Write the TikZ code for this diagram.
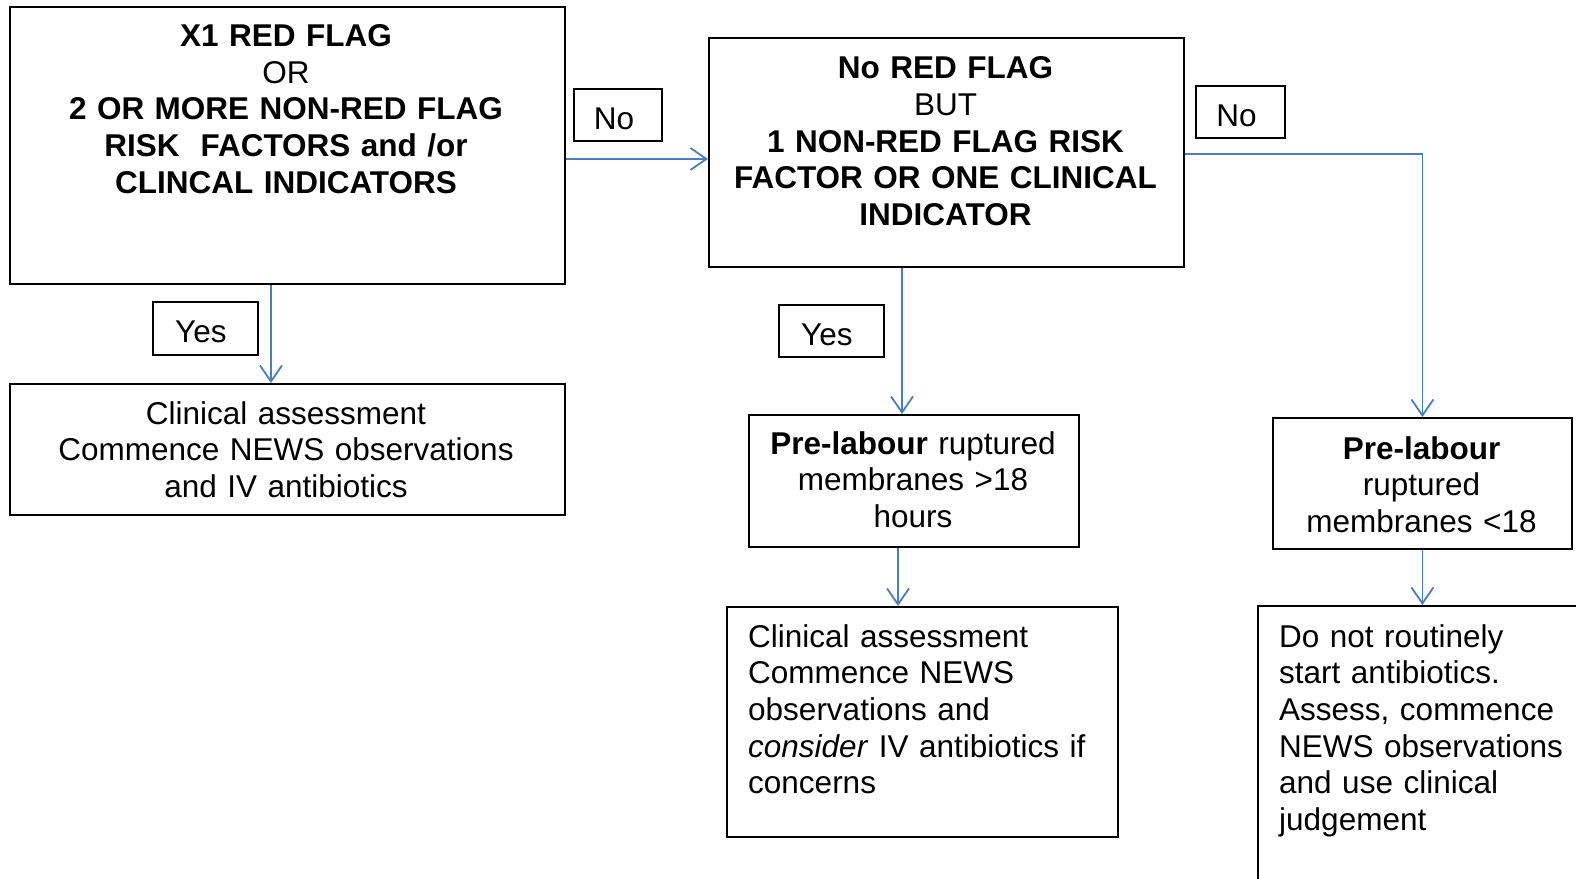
\documentclass[tikz,border=0pt]{standalone}
\usepackage{fontspec}
\setmainfont{Liberation Sans}
\usetikzlibrary{arrows.meta,calc}
\definecolor{arrblue}{RGB}{74,126,187}
\newcommand\myfs{\fontsize{31.5}{36.7}\selectfont}
\tikzset{
  box/.style={draw=black, line width=1.8pt, inner sep=0pt, anchor=north west},
  lbl/.style={draw=black, line width=1.8pt, inner sep=0pt, anchor=north west, font=\myfs, text height=29pt, text depth=0pt},
  ctext/.style={inner sep=0pt, anchor=base, align=center, text width=#1, font=\myfs},
  ltext/.style={inner sep=0pt, anchor=base west, align=left, text width=#1, font=\myfs},
  arr/.style={draw=arrblue, line width=1.8pt, -{Straight Barb[length=16pt,width=22pt]}}
}
\begin{document}
\begin{tikzpicture}[x=1pt,y=-1pt]
\useasboundingbox (0,0) rectangle (1576,878);
\clip (0,0) rectangle (1576,878);
% boxes
\node[box, minimum width=555pt, minimum height=277pt] (b1) at (9,6) {};
\node[box, minimum width=475pt, minimum height=229pt] (b2) at (708,37) {};
\node[box, minimum width=555pt, minimum height=131pt] (b3) at (9,383) {};
\node[box, minimum width=330pt, minimum height=132pt] (b4) at (748,414) {};
\node[box, minimum width=391pt, minimum height=230pt] (b5) at (726,606) {};
\node[box, minimum width=299pt, minimum height=131pt] (b6) at (1272,417) {};
\node[box, minimum width=400pt, minimum height=400pt] (b7) at (1257,605) {};
% labels
\node[lbl, minimum width=88pt, minimum height=52pt] (no1) at (573,88) {\hspace*{-8pt}No};
\node[lbl, minimum width=89pt, minimum height=52pt] (no2) at (1195,85) {\hspace*{-8pt}No};
\node[lbl, minimum width=105pt, minimum height=53pt] (yes1) at (152,301) {\hspace*{-9pt}Yes};
\node[lbl, minimum width=105pt, minimum height=52pt] (yes2) at (778,304) {\hspace*{-9pt}Yes};
% texts
\node[ctext=540pt] (t1) at (286,46.5) {\textbf{X1 RED FLAG}\\OR\\\textbf{2 OR MORE NON-RED FLAG}\\\textbf{RISK\ \ FACTORS and /or}\\\textbf{CLINCAL INDICATORS}};
\node[ctext=470pt] (t2) at (945.5,78.6) {\textbf{No RED FLAG}\\BUT\\\textbf{1 NON-RED FLAG RISK}\\\textbf{FACTOR OR ONE CLINICAL}\\\textbf{INDICATOR}};
\node[ctext=540pt] (t3) at (286,424) {Clinical assessment\\Commence NEWS observations\\and IV antibiotics};
\node[ctext=330pt] (t4) at (913,454) {\textbf{Pre-labour} ruptured\\membranes >18\\hours};
\node[ltext=370pt] (t5) at (748,647) {Clinical assessment\\Commence NEWS\\observations and\\\textit{consider} IV antibiotics if\\concerns};
\node[ctext=299pt] (t6) at (1421.5,459) {\textbf{Pre-labour}\\ruptured\\membranes <18};
\node[ltext=300pt] (t7) at (1279,647) {Do not routinely\\start antibiotics.\\Assess, commence\\NEWS observations\\and use clinical\\judgement};
% connectors
\coordinate (a1) at ($(b1.north east)+(0,153)$);
\draw[arr] (a1) -- (a1 -| b2.west);
\coordinate (a2) at ($(b2.north east)+(0,117)$);
\draw[arr] (a2) -| (b6.north);
\coordinate (a3) at ($(b1.south west)+(262,0)$);
\draw[arr] (a3) -- (a3 |- b3.north);
\coordinate (a4) at ($(b2.south west)+(194,0)$);
\draw[arr] (a4) -- (a4 |- b4.north);
\coordinate (a5) at ($(b4.south west)+(150,0)$);
\draw[arr] (a5) -- (a5 |- b5.north);
\draw[arr] (b6.south) -- (b6.south |- b7.north);
\end{tikzpicture}
\end{document}
